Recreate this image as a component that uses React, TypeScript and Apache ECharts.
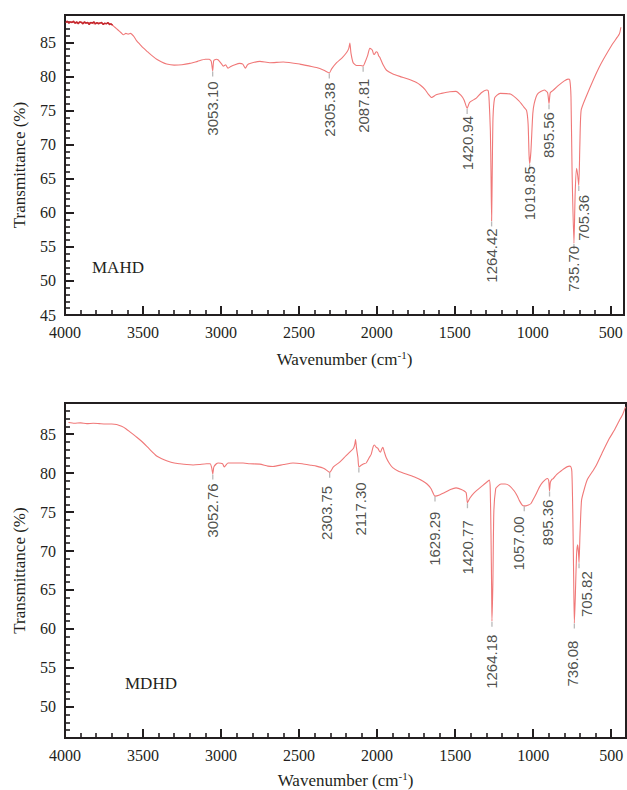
import React, { useEffect, useRef } from "react";
import * as echarts from "echarts";

// ---------- DATA ----------
const mahdWave = [3995,3960,3930,3900,3870,3840,3810,3780,3750,3720,3700,3680,3660,3640,3625,3610,3595,3580,3560,3540,3520,3500,3470,3440,3412,3380,3348,3300,3250,3199,3150,3100,3075,3062,3053,3046,3030,3017,2995,2985,2970,2955,2940,2910,2880,2860,2843,2830,2814,2750,2686,2600,2494,2430,2387,2340,2305,2290,2258,2220,2194,2180,2173,2166,2152,2130,2105,2088,2077,2060,2045,2035,2028,2020,2013,2005,1996,1988,1981,1960,1938,1900,1853,1800,1746,1720,1692,1670,1649,1620,1585,1532,1493,1460,1440,1421,1405,1362,1330,1297,1286,1280,1272,1268,1264,1260,1255,1245,1231,1209,1144,1089,1057,1040,1030,1024,1020,1012,1000,991,970,926,905,896,888,872,839,800,774,763,755,748,736,728,719,712,705,698,690,660,575,490,445,435];
const mahdT = [87.9,88.0,87.8,88.0,87.8,87.9,87.7,87.9,87.7,87.8,87.6,87.2,86.8,86.4,86.1,86.3,86.2,86.3,85.9,85.2,84.7,84.2,83.6,83.0,82.5,82.1,81.8,81.65,81.7,81.9,82.2,82.5,82.5,82.2,80.8,82.3,82.5,82.4,81.8,81.5,81.7,81.2,81.4,81.7,81.9,81.8,81.2,81.7,81.9,82.2,82.0,82.1,81.8,81.5,81.3,80.9,80.5,81.1,82.0,82.8,83.5,84.1,84.9,83.4,82.0,81.6,81.6,81.5,82.0,83.0,84.1,84.0,83.8,83.2,83.3,83.6,83.5,83.0,82.8,81.7,80.9,80.4,80.0,79.6,79.1,78.7,78.1,77.4,76.9,77.3,77.5,77.75,77.8,77.2,76.5,75.3,76.2,76.8,77.6,78.0,77.9,76.5,72.0,66.0,58.8,66.0,74.0,76.8,77.2,77.5,77.4,76.4,75.5,75.0,73.0,68.5,67.2,69.0,74.5,76.0,77.4,78.0,77.6,76.0,77.6,77.9,78.6,79.3,79.6,79.5,77.0,66.0,55.5,63.0,66.5,65.5,64.0,70.0,75.0,76.9,81.3,84.7,86.2,87.2];

// dark, noisy start of the MAHD trace
const mahdStartWave = [3995,3985,3975,3965,3955,3945,3935,3925,3915,3905,3895,3885,3875,3865,3855,3845,3835,3825,3815,3805,3795,3785,3775,3765,3755,3745,3735,3725,3715,3705,3695];
const mahdStartT = [87.9,88.1,87.8,88.0,87.9,88.1,87.8,88.0,87.7,88.0,87.9,87.7,88.0,87.8,87.9,87.6,87.9,87.8,88.0,87.7,87.9,87.7,87.8,87.9,87.6,87.8,87.7,87.9,87.6,87.7,87.5];

const mdhdWave = [3978,3940,3900,3860,3819,3780,3740,3700,3669,3637,3610,3584,3540,3499,3460,3413,3380,3349,3300,3264,3220,3179,3140,3093,3070,3060,3053,3046,3030,3019,2990,2980,2970,2955,2900,2859,2816,2752,2700,2667,2600,2539,2480,2420,2390,2340,2304,2280,2240,2200,2177,2151,2142,2138,2132,2123,2117,2102,2085,2070,2050,2038,2025,2017,2005,1996,1985,1978,1970,1963,1955,1942,1920,1900,1860,1814,1760,1708,1680,1654,1629,1600,1558,1530,1494,1460,1430,1421,1405,1377,1324,1300,1281,1275,1270,1266,1264,1258,1252,1240,1228,1206,1180,1153,1121,1100,1089,1070,1057,1046,1030,1014,1000,982,960,940,920,908,900,895,890,880,871,850,833,800,769,758,752,746,740,736,730,722,715,710,706,700,690,673,652,620,598,560,513,480,449,425,408];
const mdhdT = [86.5,86.4,86.45,86.35,86.4,86.35,86.3,86.3,86.25,86.0,85.7,85.3,84.6,83.9,83.1,82.2,81.85,81.6,81.3,81.2,81.1,81.05,81.1,81.2,81.2,80.7,79.9,80.8,81.2,81.3,81.2,80.8,81.0,81.3,81.3,81.3,81.2,81.15,80.9,80.85,81.1,81.3,81.2,81.0,80.9,80.6,80.1,80.8,81.4,82.2,82.65,83.2,83.8,84.3,83.2,82.0,80.8,81.0,81.2,81.3,82.0,82.4,83.4,83.6,83.3,83.2,82.8,82.7,83.1,83.3,82.8,82.0,81.2,80.7,80.2,79.9,79.5,79.0,78.6,78.0,77.05,77.2,77.6,77.9,78.1,77.9,77.5,76.2,76.8,77.5,78.4,78.8,79.1,78.0,72.0,65.0,61.0,66.0,75.0,78.0,78.3,78.6,78.6,78.4,77.7,77.0,76.5,75.9,75.8,75.8,75.9,76.1,76.6,77.3,78.2,78.8,79.2,79.3,79.0,77.7,78.8,79.2,79.3,79.8,80.1,80.6,80.9,80.8,80.2,75.0,66.0,60.75,64.0,69.5,70.8,70.0,68.5,72.0,76.5,77.9,79.2,80.2,80.9,82.5,84.4,85.5,86.7,87.6,88.5];

const mahdPeakLabels = ["3053.10","2305.38","2087.81","1420.94","1264.42","1019.85","895.56","735.70","705.36"];
const mahdPeakWave = [3053,2305,2088,1421,1264,1020,896,736,705];
const mahdPeakT = [80.8,80.5,81.5,75.3,58.8,67.2,76.0,55.5,64.0];

const mdhdPeakLabels = ["3052.76","2303.75","2117.30","1629.29","1420.77","1264.18","1057.00","895.36","736.08","705.82"];
const mdhdPeakWave = [3053,2304,2117,1629,1421,1264,1057,895,736,706];
const mdhdPeakT = [79.9,80.1,80.8,77.05,76.2,61.0,75.8,77.7,60.75,68.5];

const xMajorTicks = [500,1000,1500,2000,2500,3000,3500,4000];
const xMinorTicks = [600,700,800,900,1100,1200,1300,1400,1600,1700,1800,1900,2100,2200,2300,2400,2600,2700,2800,2900,3100,3200,3300,3400,3600,3700,3800,3900];
const yMajorTicksTop = [45,50,55,60,65,70,75,80,85];
const yMinorTicksTop = [46,47,48,49,51,52,53,54,56,57,58,59,61,62,63,64,66,67,68,69,71,72,73,74,76,77,78,79,81,82,83,84,86,87,88];
const yMajorTicksBottom = [50,55,60,65,70,75,80,85];
const yMinorTicksBottom = [47,48,49,51,52,53,54,56,57,58,59,61,62,63,64,66,67,68,69,71,72,73,74,76,77,78,79,81,82,83,84,86,87,88];

// ---------- STYLE / LAYOUT ----------
const INK = "#231f20";
const LINE = "#f07878";
const SERIF = "Liberation Serif";
const SANS = "Liberation Sans";
const mahdLabelGap = [10, 9, 12, 7, 7, 2, 8, 2, 9];
const mahdLabelDx = [0, 0, 0, 0, 0, 0, 0, 0, 5];
const mdhdLabelGap = [9, 13, 15, 15, 17, 13, 10, 8, 17, 8];
const mdhdLabelDx = [0, -3, 2, 0, 0, 0, -6, -2, -2, 7];

const zip = (a: number[], b: number[]) => a.map((v, i) => [v, b[i]]);

function xAxes(grid: number, min: number) {
  return [
    {
      gridIndex: grid, type: "value", inverse: true, min, max: 4000, position: "bottom",
      axisLine: { show: true, onZero: false, lineStyle: { color: INK, width: 2 } },
      axisTick: { show: true, inside: true, length: 9, customValues: xMajorTicks, lineStyle: { color: INK, width: 2 } },
      axisLabel: { show: true, customValues: xMajorTicks, formatter: (v: number) => String(v), color: INK, fontFamily: SERIF, fontSize: 16, margin: 9 },
      splitLine: { show: false },
      name: "Wavenumber (cm{sup|-1})",
      nameLocation: "middle",
      nameGap: grid === 0 ? 34 : 32,
      nameTextStyle: {
        color: INK, fontFamily: SERIF, fontSize: 17,
        rich: { sup: { fontSize: 11, fontFamily: SERIF, color: INK, verticalAlign: "bottom", padding: [0, 0, 9, 0] } },
      },
    },
    {
      gridIndex: grid, type: "value", inverse: true, min, max: 4000, position: "bottom",
      axisLine: { show: false, onZero: false },
      axisTick: { show: true, inside: true, length: 5, customValues: xMinorTicks, lineStyle: { color: INK, width: 1.6 } },
      axisLabel: { show: false },
      splitLine: { show: false },
    },
  ];
}

function yAxes(grid: number, min: number, major: number[], minor: number[]) {
  return [
    {
      gridIndex: grid, type: "value", min, max: 89, position: "left",
      axisLine: { show: true, onZero: false, lineStyle: { color: INK, width: 2 } },
      axisTick: { show: true, inside: true, length: 9, customValues: major, lineStyle: { color: INK, width: 2 } },
      axisLabel: { show: true, customValues: major, formatter: (v: number) => String(v), color: INK, fontFamily: SERIF, fontSize: 16, margin: 9 },
      splitLine: { show: false },
      name: "Transmittance (%)",
      nameLocation: "middle",
      nameGap: 37,
      nameTextStyle: { color: INK, fontFamily: SERIF, fontSize: 17 },
    },
    {
      gridIndex: grid, type: "value", min, max: 89, position: "left",
      axisLine: { show: false, onZero: false },
      axisTick: { show: true, inside: true, length: 5, customValues: minor, lineStyle: { color: INK, width: 1.6 } },
      axisLabel: { show: false },
      splitLine: { show: false },
    },
  ];
}

function peakSeries(axis: number, labels: string[], wave: number[], t: number[], gap: number[], dx: number[]) {
  return [
    {
      type: "scatter", xAxisIndex: axis, yAxisIndex: axis, z: 3,
      symbol: "rect", symbolSize: [1.3, 5], symbolOffset: [0, 3],
      itemStyle: { color: "#a8a8a8" },
      data: zip(wave, t),
      silent: true,
    },
    {
      type: "scatter", xAxisIndex: axis, yAxisIndex: axis, z: 4,
      symbol: "circle", symbolSize: 1,
      itemStyle: { color: "rgba(0,0,0,0)" },
      data: labels.map((name, i) => ({
        name, value: [wave[i], t[i]],
        label: { distance: gap[i], offset: [0, dx[i]] },
      })),
      label: {
        show: true, formatter: (p: any) => p.name, position: "bottom", rotate: 90,
        align: "right", verticalAlign: "middle",
        color: INK, fontFamily: SANS, fontSize: 15,
      },
      silent: true,
    },
  ];
}

export default function App() {
  const ref = useRef<HTMLDivElement>(null);
  useEffect(() => {
    if (!ref.current) return;
    const chart = echarts.init(ref.current, undefined, { renderer: "svg" });
    chart.setOption({
      animation: false,
      backgroundColor: "#ffffff",
      textStyle: { fontFamily: SERIF },
      grid: [
        { left: 65, top: 15, width: 559, height: 300, show: true, borderColor: INK, borderWidth: 2, backgroundColor: "transparent" },
        { left: 65, top: 403, width: 561, height: 335, show: true, borderColor: INK, borderWidth: 2, backgroundColor: "transparent" },
      ],
      xAxis: [...xAxes(0, 415), ...xAxes(1, 405)],
      yAxis: [...yAxes(0, 45, yMajorTicksTop, yMinorTicksTop), ...yAxes(1, 46, yMajorTicksBottom, yMinorTicksBottom)],
      graphic: [
        { type: "text", left: 92, top: 259, style: { text: "MAHD", fill: INK, font: `17px ${SERIF}` } },
        { type: "text", left: 125, top: 675, style: { text: "MDHD", fill: INK, font: `17px ${SERIF}` } },
      ],
      series: [
        {
          type: "line", xAxisIndex: 0, yAxisIndex: 0, data: zip(mahdWave, mahdT),
          showSymbol: false, symbol: "none", smooth: 0.2, lineStyle: { color: LINE, width: 1.1 }, silent: true,
        },
        {
          type: "line", xAxisIndex: 0, yAxisIndex: 0, data: zip(mahdStartWave, mahdStartT),
          showSymbol: false, symbol: "none", lineStyle: { color: "#c4262c", width: 1.5 }, silent: true,
        },
        {
          type: "line", xAxisIndex: 2, yAxisIndex: 2, data: zip(mdhdWave, mdhdT),
          showSymbol: false, symbol: "none", smooth: 0.2, lineStyle: { color: LINE, width: 1.1 }, silent: true,
        },
        ...peakSeries(0, mahdPeakLabels, mahdPeakWave, mahdPeakT, mahdLabelGap, mahdLabelDx),
        ...peakSeries(2, mdhdPeakLabels, mdhdPeakWave, mdhdPeakT, mdhdLabelGap, mdhdLabelDx),
      ],
    });
    return () => chart.dispose();
  }, []);
  return <div ref={ref} style={{ width: 627, height: 790, position: "absolute", left: 0, top: 0 }} />;
}
